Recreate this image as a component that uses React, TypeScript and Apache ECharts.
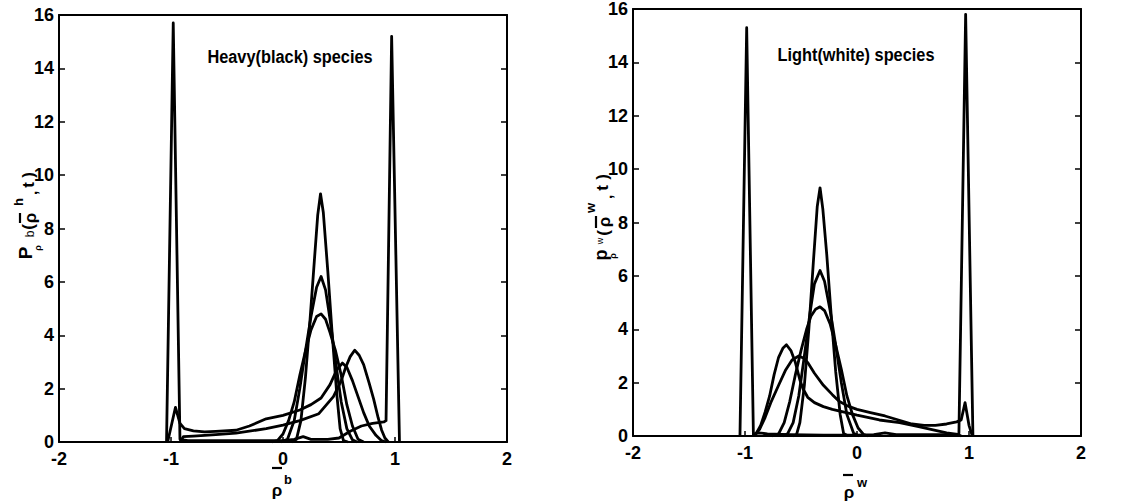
import React, { useEffect, useRef } from "react";
import * as echarts from "echarts";

// ---------- data ----------
const xTicks = [-2, -1, 0, 1, 2];
const yTicks = [0, 2, 4, 6, 8, 10, 12, 14, 16];

// Heavy (black) species
const heavySpikes = [[-1.04,0],[-0.98,15.7],[-0.92,0.1],[-0.85,0.05],[-0.6,0.05],[-0.3,0.05],[0,0.05],[0.1,0.1],[0.18,0.2],[0.25,0.1],[0.4,0.1],[0.5,0.15],[0.6,0.4],[0.7,0.6],[0.8,0.7],[0.9,0.75],[0.92,0.8],[0.97,15.2],[1.04,0]];
const heavyA = [[0.08,0],[0.12,0.1],[0.16,0.8],[0.2,2.4],[0.24,4.5],[0.28,6.8],[0.31,8.5],[0.335,9.3],[0.36,8.6],[0.4,6.4],[0.44,4.0],[0.48,1.8],[0.51,0.5],[0.54,0.05],[0.58,0]];
const heavyB = [[-0.02,0],[0.04,0.1],[0.1,0.8],[0.15,2],[0.2,3.4],[0.25,4.7],[0.3,5.8],[0.34,6.2],[0.38,5.7],[0.42,4.6],[0.47,3.0],[0.52,1.5],[0.57,0.5],[0.62,0.08],[0.66,0]];
const heavyC = [[-0.1,0],[-0.05,0.05],[0,0.3],[0.05,0.8],[0.1,1.5],[0.15,2.5],[0.2,3.4],[0.25,4.2],[0.3,4.7],[0.34,4.8],[0.38,4.6],[0.42,4.1],[0.47,3.4],[0.52,2.5],[0.57,1.4],[0.62,0.6],[0.67,0.1],[0.72,0]];
const heavyD = [[-0.92,0],[-0.89,0.2],[-0.8,0.22],[-0.6,0.28],[-0.42,0.33],[-0.15,0.5],[0,0.63],[0.15,0.8],[0.32,1.06],[0.45,1.7],[0.52,2.3],[0.56,2.8],[0.6,3.2],[0.64,3.44],[0.68,3.25],[0.72,2.9],[0.77,2.2],[0.81,1.6],[0.85,0.9],[0.88,0.45],[0.91,0.15],[0.94,0]];
const heavyE = [[-1.03,0],[-0.96,1.3],[-0.92,0.7],[-0.88,0.5],[-0.8,0.42],[-0.7,0.38],[-0.6,0.4],[-0.42,0.44],[-0.3,0.6],[-0.15,0.87],[0,1.0],[0.15,1.2],[0.25,1.4],[0.34,1.65],[0.42,2.15],[0.48,2.7],[0.53,2.96],[0.57,2.8],[0.62,2.3],[0.67,1.7],[0.72,1.1],[0.77,0.6],[0.83,0.25],[0.88,0.05],[0.92,0]];

// Light (white) species
const lightSpikes = [[-1.045,0],[-0.985,15.3],[-0.925,0.05],[-0.88,0.12],[-0.8,0.08],[-0.6,0.05],[-0.3,0.03],[0,0.03],[0.15,0.05],[0.25,0.12],[0.35,0.05],[0.6,0.05],[0.9,0.05],[0.91,0.1],[0.97,15.8],[1.035,0]];
const lightA = [[-0.57,0],[-0.54,0.05],[-0.51,0.5],[-0.47,1.9],[-0.43,4.0],[-0.39,6.5],[-0.355,8.6],[-0.33,9.3],[-0.305,8.5],[-0.27,6.8],[-0.23,4.5],[-0.19,2.4],[-0.15,0.8],[-0.12,0.1],[-0.08,0]];
const lightB = [[-0.66,0],[-0.62,0.08],[-0.57,0.5],[-0.52,1.5],[-0.47,3.0],[-0.42,4.6],[-0.38,5.7],[-0.33,6.2],[-0.29,5.8],[-0.24,4.7],[-0.19,3.4],[-0.14,2],[-0.09,0.8],[-0.03,0.1],[0.02,0]];
const lightC = [[-0.76,0],[-0.7,0.08],[-0.65,0.5],[-0.6,1.3],[-0.55,2.3],[-0.5,3.2],[-0.45,4.0],[-0.41,4.5],[-0.37,4.75],[-0.33,4.84],[-0.29,4.7],[-0.24,4.2],[-0.19,3.4],[-0.14,2.5],[-0.09,1.5],[-0.04,0.8],[0.01,0.3],[0.06,0.05],[0.1,0]];
const lightD = [[-0.93,0],[-0.9,0.1],[-0.86,0.4],[-0.82,0.9],[-0.78,1.5],[-0.74,2.3],[-0.7,2.95],[-0.66,3.3],[-0.63,3.42],[-0.59,3.2],[-0.55,2.75],[-0.51,2.1],[-0.48,1.75],[-0.44,1.45],[-0.38,1.25],[-0.3,1.1],[-0.22,1.0],[0,0.78],[0.2,0.6],[0.38,0.5],[0.55,0.35],[0.66,0.25],[0.8,0.12],[0.9,0.06],[0.93,0]];
const lightE = [[-0.93,0],[-0.9,0.1],[-0.87,0.25],[-0.82,0.7],[-0.77,1.25],[-0.7,1.9],[-0.64,2.45],[-0.58,2.85],[-0.52,3.0],[-0.47,2.9],[-0.44,2.75],[-0.38,2.35],[-0.3,1.9],[-0.22,1.55],[-0.16,1.3],[-0.08,1.12],[0,1.0],[0.12,0.88],[0.25,0.75],[0.37,0.6],[0.49,0.45],[0.6,0.4],[0.7,0.4],[0.8,0.45],[0.89,0.53],[0.93,0.6],[0.965,1.25],[1.0,0.4],[1.03,0]];

const heavySeries = [heavySpikes, heavyA, heavyB, heavyC, heavyD, heavyE];
const lightSeries = [lightSpikes, lightA, lightB, lightC, lightD, lightE];

const titleHeavy = "Heavy(black) species";
const titleLight = "Light(white) species";

// ---------- styling ----------
const FONT = '"Liberation Sans", Arial, sans-serif';

function axisX(gridIndex: number, position: "bottom" | "top") {
  const bottom = position === "bottom";
  return {
    type: "value",
    gridIndex,
    position,
    min: xTicks[0],
    max: xTicks[xTicks.length - 1],
    interval: 1,
    axisLine: { onZero: false, lineStyle: { color: "#000", width: 2 } },
    axisTick: { show: bottom, inside: true, length: 5, lineStyle: { color: "#000", width: 1.5 } },
    axisLabel: {
      show: bottom, color: "#000", fontSize: 18, fontWeight: "bold", fontFamily: FONT, margin: 8,
    },
    splitLine: { show: false },
  };
}
function axisY(gridIndex: number, position: "left" | "right") {
  const left = position === "left";
  return {
    type: "value",
    gridIndex,
    position,
    min: yTicks[0],
    max: yTicks[yTicks.length - 1],
    interval: 2,
    axisLine: { onZero: false, lineStyle: { color: "#000", width: 2 } },
    axisTick: { show: true, inside: true, length: 6, lineStyle: { color: "#000", width: 1.5 } },
    axisLabel: {
      show: left, color: "#000", fontSize: 18, fontWeight: "bold", fontFamily: FONT, margin: 5,
    },
    splitLine: { show: false },
  };
}

function txt(text: string, x: number, y: number, size: number, rot = 0, weight = "bold", sx = 1) {
  return {
    type: "text",
    x, y,
    rotation: rot,
    scaleX: sx,
    style: {
      text,
      fill: "#000",
      fontSize: size,
      fontWeight: weight,
      fontFamily: FONT,
      align: "center",
      verticalAlign: "middle",
      textAlign: "center",
      textVerticalAlign: "middle",
    },
  };
}
function bar(x1: number, y1: number, x2: number, y2: number) {
  return { type: "line", shape: { x1, y1, x2, y2 }, style: { stroke: "#000", lineWidth: 2.2 } };
}

const R = Math.PI / 2;

export default function App() {
  const ref = useRef<HTMLDivElement>(null);
  useEffect(() => {
    if (!ref.current) return;
    const chart = echarts.init(ref.current, null, { renderer: "svg" });
    const mk = (data: number[][], xi: number, yi: number) => ({
      type: "line",
      xAxisIndex: xi,
      yAxisIndex: yi,
      data,
      showSymbol: false,
      symbol: "none",
      smooth: false,
      lineStyle: { color: "#000", width: 2.8, join: "round" },
      z: 3,
    });
    chart.setOption({
      animation: false,
      backgroundColor: "#fff",
      grid: [
        { left: 59, top: 15, width: 448, height: 427 },
        { left: 633, top: 8, width: 448, height: 428 },
      ],
      xAxis: [axisX(0, "bottom"), axisX(0, "top"), axisX(1, "bottom"), axisX(1, "top")],
      yAxis: [axisY(0, "left"), axisY(0, "right"), axisY(1, "left"), axisY(1, "right")],
      series: [
        ...heavySeries.map((d) => mk(d, 0, 0)),
        ...lightSeries.map((d) => mk(d, 2, 2)),
      ],
      graphic: [
        txt(titleHeavy, 290, 57, 19, 0, "bold", 0.86),
        txt(titleLight, 856, 55, 19, 0, "bold", 0.86),
        // left y label  P_ρ^b(ρ̄^h,t)
        txt("P", 25, 253, 19, R),
        txt("ρ", 38, 248, 9, R),
        txt("b", 30, 234, 12, R, "normal"),
        txt("(", 28, 227, 17, R),
        txt("ρ", 30, 218, 17, R),
        bar(20, 213, 20, 223),
        txt("h", 18, 202, 13, R),
        txt(",", 31, 193, 15, R),
        txt("t", 28, 185, 17, R),
        txt(")", 28, 175, 17, R),
        // right y label  p_ρ^w(ρ̄^w,t)
        txt("p", 601, 255, 18, R),
        txt("ρ", 613, 256, 9, R),
        txt("w", 600, 241, 9, R, "normal"),
        txt("(", 603, 233, 17, R),
        txt("ρ", 604, 222, 17, R),
        bar(596, 216, 596, 228),
        txt("w", 590, 208, 13, R),
        txt(",", 606, 197, 15, R),
        txt("t", 602, 188, 17, R),
        txt(")", 602, 177, 17, R),
        // left x label ρ̄^b
        bar(272, 468, 282, 468),
        txt("ρ", 277, 490, 17),
        txt("b", 288, 479, 13),
        // right x label ρ̄^w
        bar(843, 475, 853, 475),
        txt("ρ", 849, 492, 17),
        txt("w", 862, 482, 13),
      ],
    });
    return () => chart.dispose();
  }, []);
  return (
    <div
      ref={ref}
      style={{ position: "absolute", left: 0, top: 0, width: 1138, height: 502, background: "#fff" }}
    />
  );
}
